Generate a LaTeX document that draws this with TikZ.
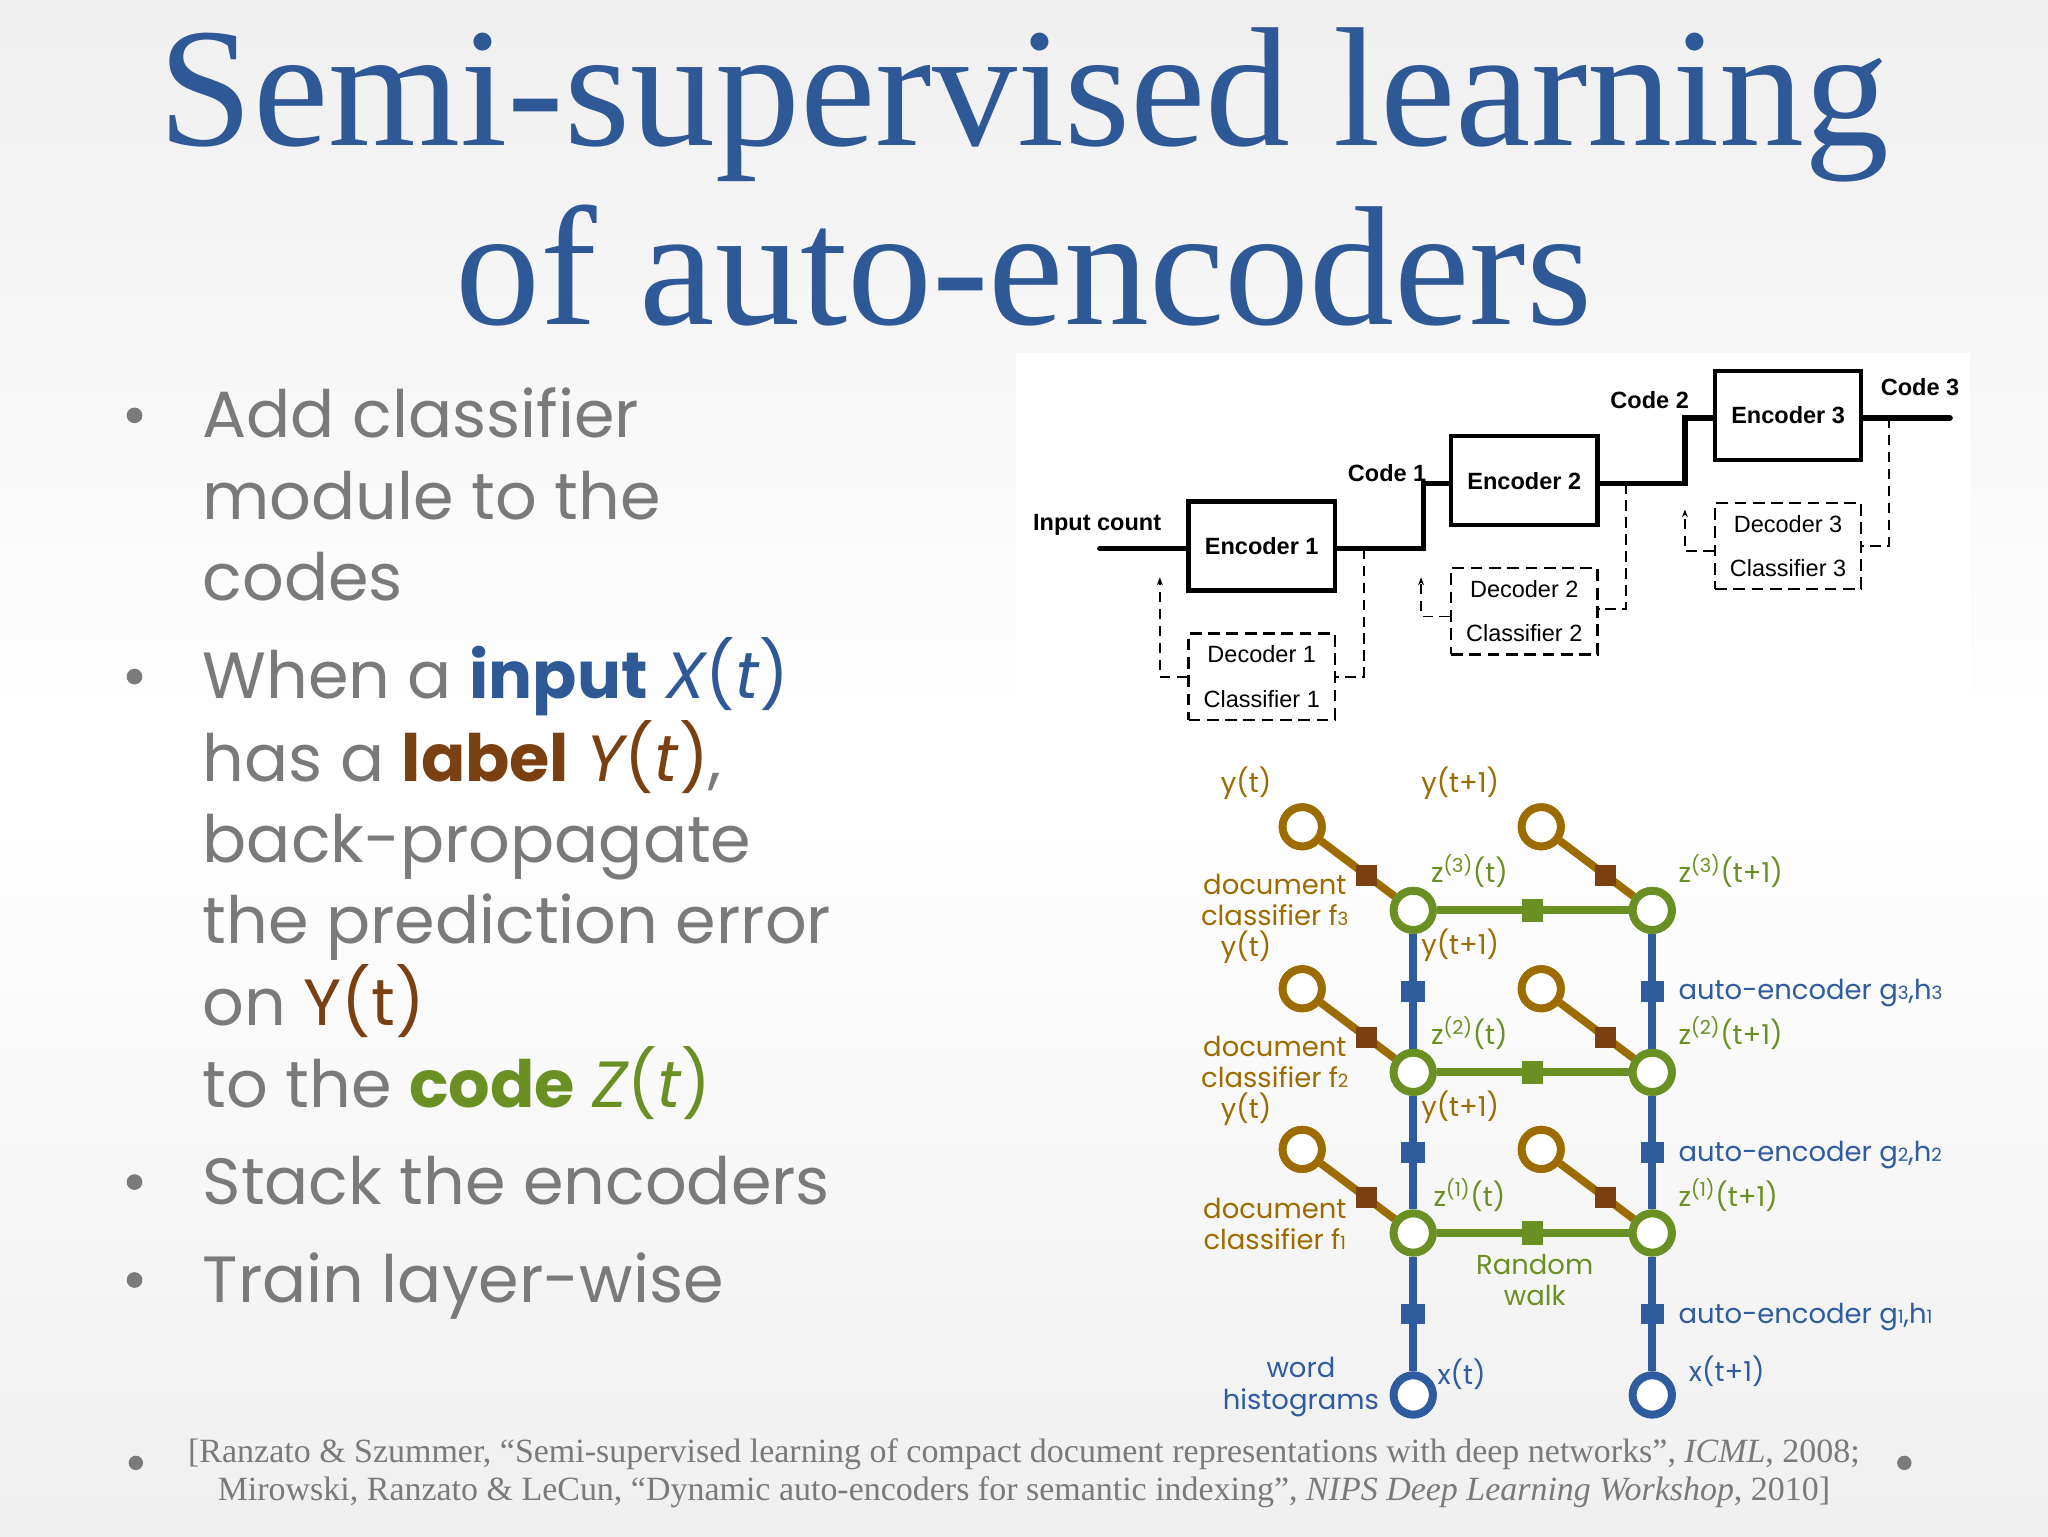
\documentclass[tikz,border=0pt]{standalone}
\usepackage{fontspec}
\setmainfont{Liberation Serif}
\newfontfamily\pop{Poppins}
\newfontfamily\ari{Liberation Sans}
\usetikzlibrary{arrows.meta}
\definecolor{ttl}{HTML}{2F5897}
\definecolor{gtx}{HTML}{7A7A7A}
\definecolor{brn}{HTML}{9C6C00}
\definecolor{dbr}{HTML}{7A4012}
\definecolor{grn}{HTML}{6A9024}
\definecolor{blu}{HTML}{2E5C9E}
\tikzset{
 ttl/.style={font=\fontsize{130}{130}\selectfont, text=ttl},
 bul/.style={anchor=base west, font=\pop\fontsize{50}{50}\selectfont, text=gtx, inner sep=0},
 dot/.style={circle, fill=gtx, minimum size=12pt, inner sep=0},
 enc/.style={draw, line width=3.4pt, minimum width=112pt, minimum height=68pt, font=\ari\bfseries\fontsize{18}{18}\selectfont},
 dc/.style={draw, dash pattern=on 9pt off 5pt, line width=1.8pt, minimum width=112pt, minimum height=66pt, align=center, font=\ari\fontsize{18}{34}\selectfont},
 lab/.style={font=\ari\bfseries\fontsize{18}{18}\selectfont},
 thk/.style={line width=4.2pt},
 dsh/.style={line width=1.5pt, dash pattern=on 8pt off 5pt},
 gn/.style={circle, draw=grn, line width=6pt, minimum size=30pt, inner sep=0, fill=white},
 bn/.style={circle, draw=blu, line width=6pt, minimum size=30pt, inner sep=0, fill=white},
 yn/.style={circle, draw=brn, line width=6pt, minimum size=30pt, inner sep=0, fill=white},
 gl/.style={font=\pop\fontsize{21}{24}\selectfont, inner sep=1pt},
 sq/.style={rectangle, minimum size=16pt, inner sep=0},
}
\newcommand{\sbs}[1]{{\fontsize{14}{14}\selectfont #1}}
\begin{document}
\begin{tikzpicture}[x=1pt,y=-1pt]
\shade[top color=gray!12, bottom color=gray!12, middle color=white] (0,0) rectangle (1568,1176);
\useasboundingbox (0,0) rectangle (1568,1176);
% title
\node[ttl] (t1) at (784,80) {Semi-supervised learning};
\node[ttl] (t2) at (784,203) {of auto-encoders};
% bullets
\foreach \y in {318,518,905,980} \node[dot] at (103,\y) {};
\node[bul] (b1) at (155,335) {Add classifier};
\node[bul] at (155,398) {module to the};
\node[bul] at (155,460) {codes};
\node[bul] at (155,535) {When a \textcolor{ttl}{\bfseries input} \textcolor{ttl}{\itshape X}\textcolor{ttl}{(\textit{t})}};
\node[bul] at (155,598) {has a \textcolor{dbr}{\bfseries label} \textcolor{dbr}{\itshape Y}\textcolor{dbr}{(\textit{t})},};
\node[bul] at (155,660) {back-propagate};
\node[bul] at (155,722) {the prediction error};
\node[bul] at (155,785) {on \textcolor{dbr}{Y(t)}};
\node[bul] at (155,848) {to the \textcolor{grn}{\bfseries code} \textcolor{grn}{\itshape Z}\textcolor{grn}{(\textit{t})}};
\node[bul] at (155,922) {Stack the encoders};
\node[bul] at (155,997) {Train layer-wise};
% block diagram
\fill[white] (778,270) rectangle (1508,572);
\node[enc] (e1) at (966,418) {Encoder 1};
\node[enc] (e2) at (1167,368) {Encoder 2};
\node[enc] (e3) at (1369,318) {Encoder 3};
\node[dc] (d1) at (966,518) {Decoder 1\\Classifier 1};
\node[dc] (d2) at (1167,468) {Decoder 2\\Classifier 2};
\node[dc] (d3) at (1369,418) {Decoder 3\\Classifier 3};
\coordinate (in) at (842,420);
\coordinate (out) at (1493,320);
\draw[thk, line cap=round] (in) -- (in-|e1.west);
\draw[thk] (e1.east|-in) -- (1090,420) -- (1090,370) -- (e2.west|-0,370);
\draw[thk] (e2.east|-0,370) -- (1290,370) -- (1290,320) -- (e3.west|-out);
\draw[thk, line cap=round] (e3.east|-out) -- (out);
\node[lab] at (840,402) {Input count};
\node[lab] at (1062,362) {Code 1};
\node[lab] at (1263,306) {Code 2};
\node[lab] at (1470,296) {Code 3};
\draw[dsh] (1044,420) -- (1044,518) -- (d1.east);
\draw[dsh,-{Stealth[length=6pt]}] (d1.west) -- (888,518) -- (888,442);
\draw[dsh] (1245,370) -- (1245,466) -- (d2.east|-0,466);
\draw[dsh,-{Stealth[length=6pt]}] (d2.west|-0,472) -- (1088,472) -- (1088,442);
\draw[dsh] (1446,320) -- (1446,418) -- (d3.east|-0,418);
\draw[dsh,-{Stealth[length=6pt]}] (d3.west|-0,422) -- (1290,422) -- (1290,390);
% graph
\foreach \n/\x/\y in {a3/1082/697,b3/1265/697,a2/1082/821,b2/1265/821,a1/1082/944,b1/1265/944} \node[gn] (\n) at (\x,\y) {};
\node[bn] (a0) at (1082,1068) {};
\node[bn] (b0) at (1265,1068) {};
\foreach \n/\x/\y in {ya3/997/633,yb3/1180/633,ya2/997/757,yb2/1180/757,ya1/997/880,yb1/1180/880} \node[yn] (\n) at (\x,\y) {};
\foreach \u/\l in {a0/a1,a1/a2,a2/a3,b0/b1,b1/b2,b2/b3}
 \draw[blu, line width=6pt] (\u) -- node[sq, fill=blu, minimum width=18pt] {} (\l);
\foreach \u/\l in {a1/b1,a2/b2,a3/b3}
 \draw[grn, line width=6pt] (\u) -- node[sq, fill=grn, minimum height=18pt] {} (\l);
\foreach \u/\l in {ya1/a1,ya2/a2,ya3/a3,yb1/b1,yb2/b2,yb3/b3}
 \draw[brn, line width=6pt] (\u) -- node[pos=0.62, sq, fill=dbr] {} (\l);
\foreach \n in {a1,a2,a3,b1,b2,b3} \node[gn] at (\n) {};
\node[bn] at (a0) {}; \node[bn] at (b0) {};
\foreach \n in {ya1,ya2,ya3,yb1,yb2,yb3} \node[yn] at (\n) {};
\begin{scope}[every node/.style={gl}]
\node[text=brn] at (954,600) {y(t)};
\node[text=brn] at (1118,600) {y(t+1)};
\foreach \y/\k in {724/3,848/2,972/1}{
 \node[text=brn, align=center] at (976,\y-35) {document\\classifier f\sbs{\k}};}
\node[text=brn] at (954,725) {y(t)};
\node[text=brn] at (1118,724) {y(t+1)};
\node[text=brn] at (954,849) {y(t)};
\node[text=brn] at (1118,848) {y(t+1)};
\node[text=grn] at (1125,667) {z\textsuperscript{(3)}(t)};
\node[text=grn] at (1125,791) {z\textsuperscript{(2)}(t)};
\node[text=grn] at (1125,915) {z\textsuperscript{(1)}(t)};
\node[text=grn, anchor=west] at (1284,667) {z\textsuperscript{(3)}(t+1)};
\node[text=grn, anchor=west] at (1284,791) {z\textsuperscript{(2)}(t+1)};
\node[text=grn, anchor=west] at (1284,915) {z\textsuperscript{(1)}(t+1)};
\node[text=blu, anchor=west] at (1284,760) {auto-encoder g\sbs{3},h\sbs{3}};
\node[text=blu, anchor=west] at (1284,884) {auto-encoder g\sbs{2},h\sbs{2}};
\node[text=blu, anchor=west] at (1284,1008) {auto-encoder g\sbs{1},h\sbs{1}};
\node[text=grn, align=center] at (1175,980) {Random\\walk};
\node[text=blu, align=center] at (996,1062) {word\\histograms};
\node[text=blu] at (1119,1052) {x(t)};
\node[text=blu] at (1322,1050) {x(t+1)};
\end{scope}
% citation
\node[dot, minimum size=11pt] at (104,1120) {};
\node[dot, minimum size=11pt] at (1458,1120) {};
\node[text=gtx, align=center, font=\fontsize{26}{29}\selectfont] (cit) at (784,1128) {[Ranzato \& Szummer, “Semi-supervised learning of compact document representations with deep networks”, \textit{ICML}, 2008;\\Mirowski, Ranzato \& LeCun, “Dynamic auto-encoders for semantic indexing”, \textit{NIPS Deep Learning Workshop}, 2010]};
\end{tikzpicture}
\end{document}
